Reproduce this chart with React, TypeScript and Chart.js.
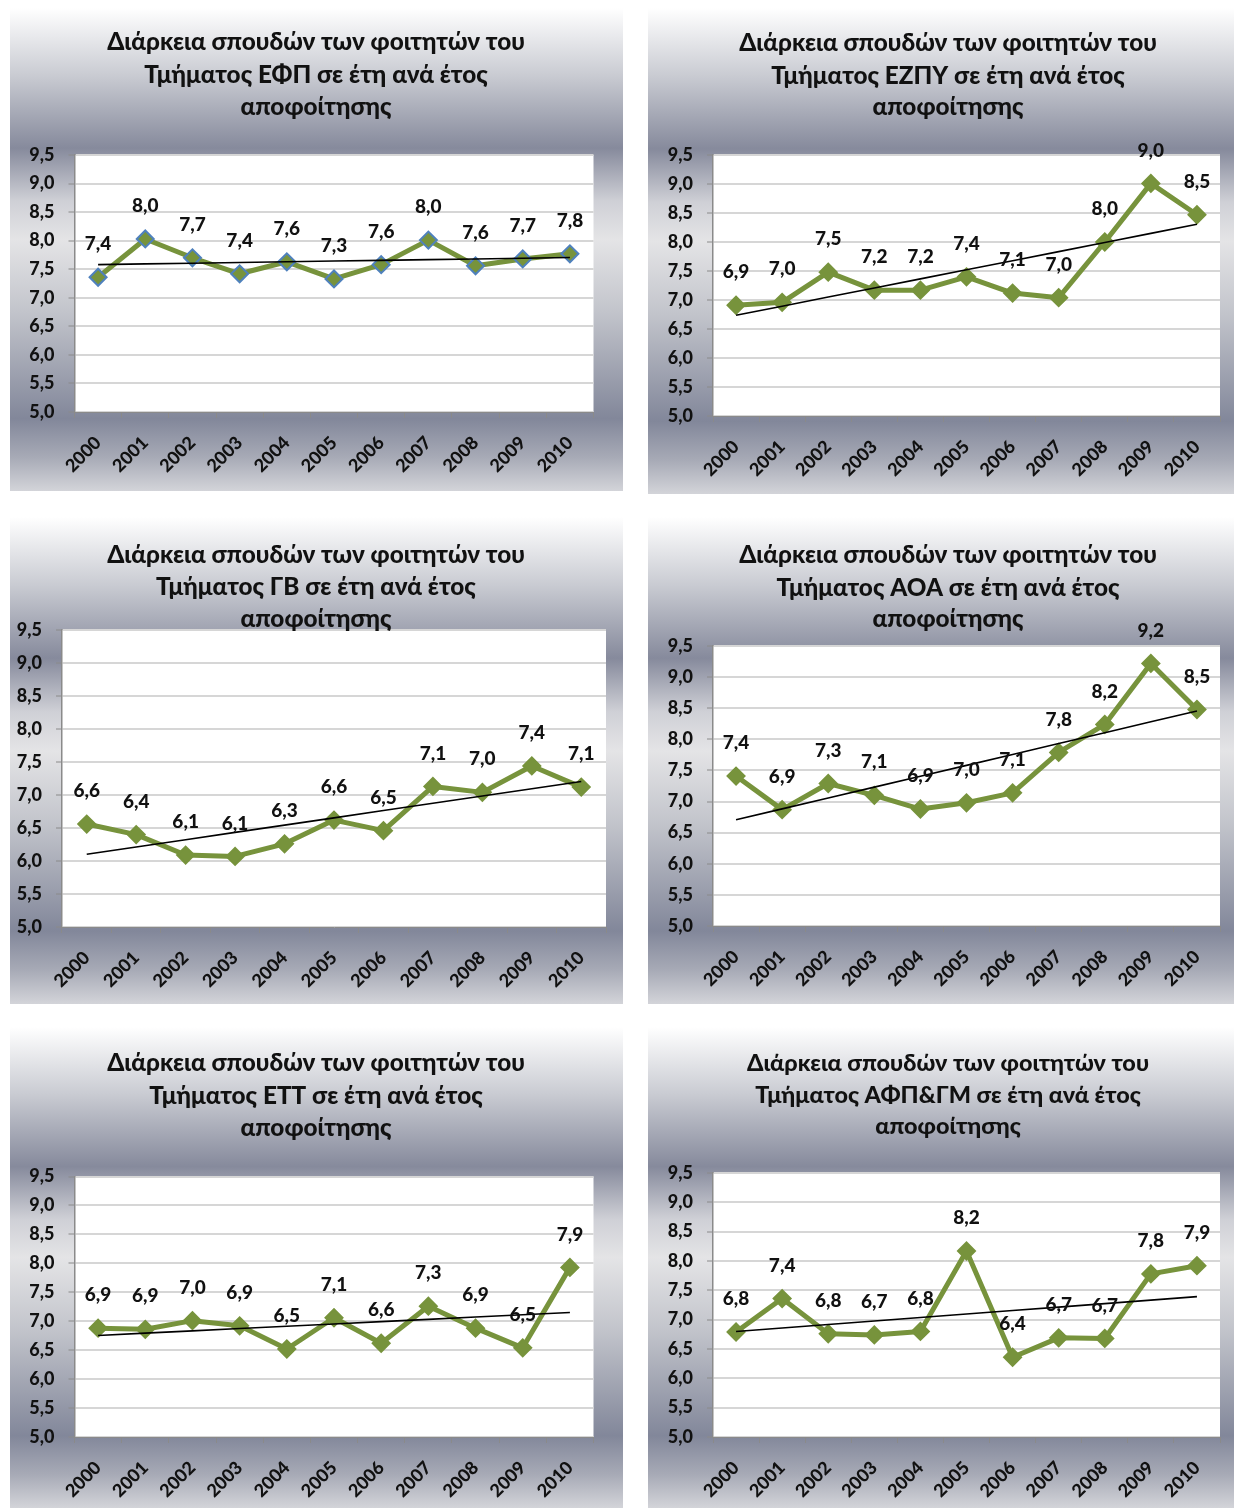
import React, { useEffect, useRef } from "react";
import { Chart, registerables } from "chart.js";

Chart.register(...registerables);

// ---------------- DATA ----------------
const years = ["2000", "2001", "2002", "2003", "2004", "2005", "2006", "2007", "2008", "2009", "2010"];
const yMin = 5.0;
const yMax = 9.5;
const yStep = 0.5;

const titlePrefix = "Διάρκεια σπουδών των φοιτητών του";
const titleSuffix = "αποφοίτησης";

const deptEFP = "ΕΦΠ";
const valuesEFP = [7.36, 8.03, 7.7, 7.42, 7.63, 7.33, 7.58, 8.01, 7.56, 7.68, 7.77];

const deptEZPY = "ΕΖΠΥ";
const valuesEZPY = [6.91, 6.96, 7.48, 7.17, 7.17, 7.4, 7.12, 7.04, 8.0, 9.01, 8.47];

const deptGB = "ΓΒ";
const valuesGB = [6.56, 6.4, 6.09, 6.07, 6.26, 6.62, 6.46, 7.13, 7.04, 7.44, 7.12];

const deptAOA = "ΑΟΑ";
const valuesAOA = [7.41, 6.87, 7.29, 7.1, 6.88, 6.98, 7.14, 7.79, 8.24, 9.22, 8.48];

const deptETT = "ΕΤΤ";
const valuesETT = [6.88, 6.86, 7.01, 6.92, 6.52, 7.06, 6.62, 7.26, 6.88, 6.54, 7.93];

const deptAFP = "ΑΦΠ&ΓΜ";
const valuesAFP = [6.79, 7.36, 6.76, 6.74, 6.8, 8.17, 6.36, 6.69, 6.68, 7.78, 7.92];

// ---------------- STYLE / LAYOUT ----------------
const FONT = "Lato, 'Open Sans', 'DejaVu Sans', sans-serif";
const WEIGHT = "900";
const TEXT = "#111111";
const LINE_GREEN = "#77933c";
const AXIS_GREY = "#8a8a8a";
const GRID_GREY = "#d6d6d6";
const PANEL_BG =
  "linear-gradient(to bottom, #ffffff 0%, #c9cbd2 14%, #868a9c 29%, #cfd0d6 40%, #e4e4e6 48%, #c2c4cb 63%, #82879a 85%, #a7aab6 93%, #d3d4d9 100%)";

const fmt = (v: number) => v.toFixed(1).replace(".", ",");

function linearFit(vals: number[]): number[] {
  const n = vals.length;
  let sx = 0, sy = 0, sxx = 0, sxy = 0;
  vals.forEach((v, i) => {
    sx += i; sy += v; sxx += i * i; sxy += i * v;
  });
  const b = (n * sxy - sx * sy) / (n * sxx - sx * sx);
  const a = (sy - b * sx) / n;
  return vals.map((_, i) => a + b * i);
}

type PanelCfg = {
  dept: string;
  values: number[];
  x: number; y: number; w: number; h: number;
  plotL: number; plotT: number; plotR: number; plotB: number;
  titleX: number; titleY: number[]; titleSize: number;
  markerBorder: string;
};

const panels: PanelCfg[] = [
  { dept: deptEFP, values: valuesEFP, x: 10, y: 8, w: 613, h: 483, plotL: 64.5, plotT: 147, plotR: 583.5, plotB: 404, titleX: 306, titleY: [34, 67, 99], titleSize: 24.3, markerBorder: "#4f81bd" },
  { dept: deptEZPY, values: valuesEZPY, x: 648, y: 8, w: 586, h: 486, plotL: 65, plotT: 147, plotR: 572, plotB: 408, titleX: 300, titleY: [35, 68, 99], titleSize: 24.3, markerBorder: LINE_GREEN },
  { dept: deptGB, values: valuesGB, x: 10, y: 517, w: 613, h: 487, plotL: 52, plotT: 113, plotR: 596, plotB: 410, titleX: 306, titleY: [38, 70, 102], titleSize: 24.3, markerBorder: LINE_GREEN },
  { dept: deptAOA, values: valuesAOA, x: 648, y: 517, w: 586, h: 487, plotL: 65, plotT: 129, plotR: 572, plotB: 409, titleX: 300, titleY: [38, 71, 102], titleSize: 24.3, markerBorder: LINE_GREEN },
  { dept: deptETT, values: valuesETT, x: 10, y: 1027, w: 613, h: 481, plotL: 64.5, plotT: 149.5, plotR: 583.5, plotB: 410, titleX: 306, titleY: [36, 69, 101], titleSize: 24.3, markerBorder: LINE_GREEN },
  { dept: deptAFP, values: valuesAFP, x: 648, y: 1027, w: 586, h: 481, plotL: 65, plotT: 146, plotR: 572, plotB: 410, titleX: 300, titleY: [36, 68, 99], titleSize: 23.4, markerBorder: LINE_GREEN },
];

function Panel({ cfg }: { cfg: PanelCfg }) {
  const ref = useRef<HTMLCanvasElement>(null);

  useEffect(() => {
    const canvas = ref.current;
    if (!canvas) return;
    const titleLines = [titlePrefix, `Τμήματος ${cfg.dept} σε έτη ανά έτος`, titleSuffix];

    const plotBgPlugin = {
      id: "plotBg",
      beforeDraw(chart: any) {
        const { ctx, chartArea } = chart;
        ctx.save();
        ctx.fillStyle = "#ffffff";
        ctx.fillRect(chartArea.left, chartArea.top, chartArea.right - chartArea.left, chartArea.bottom - chartArea.top);
        ctx.restore();
      },
    };

    const titlePlugin = {
      id: "panelTitle",
      afterDraw(chart: any) {
        const ctx = chart.ctx;
        ctx.save();
        ctx.font = `${WEIGHT} ${cfg.titleSize}px ${FONT}`;
        ctx.fillStyle = TEXT;
        ctx.textAlign = "center";
        ctx.textBaseline = "middle";
        titleLines.forEach((line, i) => ctx.fillText(line, cfg.titleX, cfg.titleY[i]));
        ctx.restore();
      },
    };

    const valueLabelPlugin = {
      id: "valueLabels",
      afterDatasetsDraw(chart: any) {
        const ctx = chart.ctx;
        const meta = chart.getDatasetMeta(1);
        ctx.save();
        ctx.font = `${WEIGHT} 19px ${FONT}`;
        ctx.fillStyle = TEXT;
        ctx.textAlign = "center";
        ctx.textBaseline = "middle";
        meta.data.forEach((pt: any, i: number) => {
          ctx.fillText(fmt(cfg.values[i]), pt.x, pt.y - 33);
        });
        ctx.restore();
      },
    };

    const chart = new Chart(canvas, {
      type: "line",
      data: {
        labels: years,
        datasets: [
          {
            label: "trend",
            data: linearFit(cfg.values),
            borderColor: "#000000",
            borderWidth: 1.6,
            pointRadius: 0,
            fill: false,
            order: 0,
          },
          {
            label: cfg.dept,
            data: cfg.values,
            borderColor: LINE_GREEN,
            borderWidth: 5,
            borderJoinStyle: "round",
            pointStyle: "rectRot",
            pointRadius: 8.5,
            pointBorderWidth: 2,
            pointBackgroundColor: LINE_GREEN,
            pointBorderColor: cfg.markerBorder,
            fill: false,
            order: 1,
          },
        ],
      },
      options: {
        responsive: false,
        animation: false,
        events: [],
        layout: { padding: { left: 0, top: cfg.plotT, right: cfg.w - cfg.plotR, bottom: 0 } },
        plugins: {
          legend: { display: false },
          tooltip: { enabled: false },
          title: { display: false },
        },
        scales: {
          x: {
            type: "category",
            offset: true,
            grid: { display: true, drawOnChartArea: false, offset: true, tickLength: 6, tickColor: AXIS_GREY, lineWidth: 1 },
            border: { display: true, color: AXIS_GREY, width: 1 },
            ticks: {
              font: { family: FONT, size: 18, weight: WEIGHT },
              color: TEXT,
              minRotation: 45,
              maxRotation: 45,
              autoSkip: false,
              padding: 14,
            },
            afterFit: (s: any) => { s.height = cfg.h - cfg.plotB; },
          },
          y: {
            min: yMin,
            max: yMax,
            ticks: {
              stepSize: yStep,
              font: { family: FONT, size: 18, weight: WEIGHT },
              color: TEXT,
              padding: 14,
              callback: (v: any) => fmt(Number(v)),
            },
            grid: { color: GRID_GREY, lineWidth: 2, tickColor: AXIS_GREY, tickLength: 6, tickWidth: 1 },
            border: { display: true, color: AXIS_GREY, width: 1.5 },
            afterFit: (s: any) => { s.width = cfg.plotL; },
          },
        },
      },
      plugins: [plotBgPlugin, valueLabelPlugin, titlePlugin],
    } as any);

    return () => chart.destroy();
  }, [cfg]);

  return (
    <div style={{ position: "absolute", left: cfg.x, top: cfg.y, width: cfg.w, height: cfg.h, background: PANEL_BG }}>
      <canvas ref={ref} width={cfg.w} height={cfg.h} style={{ display: "block", width: cfg.w, height: cfg.h }} />
    </div>
  );
}

export default function App() {
  return (
    <div style={{ position: "absolute", left: 0, top: 0, width: 1240, height: 1508, background: "#ffffff" }}>
      {panels.map((p, i) => (
        <Panel key={i} cfg={p} />
      ))}
    </div>
  );
}
